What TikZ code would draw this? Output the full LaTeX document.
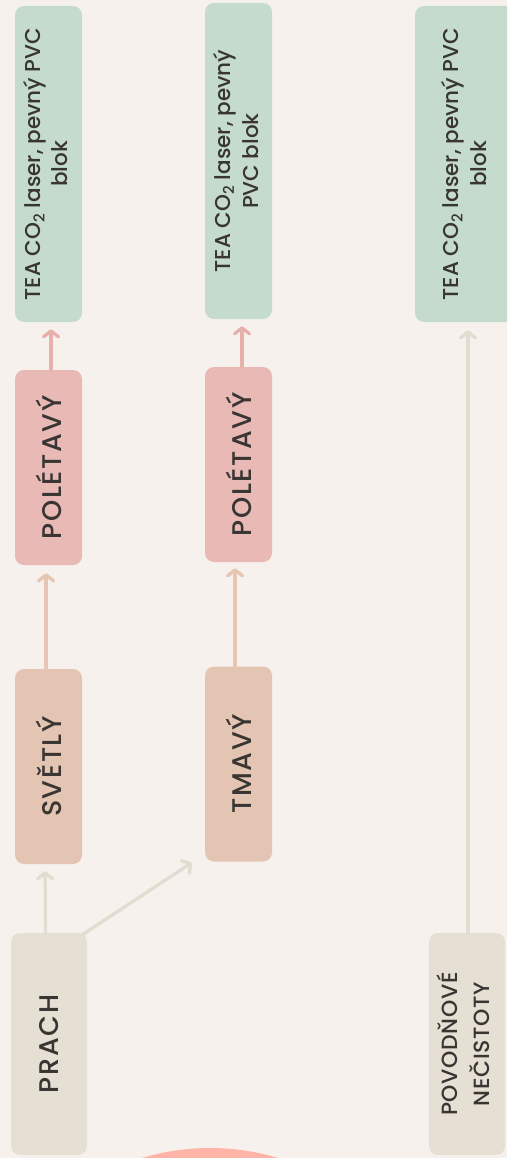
\documentclass[tikz,border=0pt]{standalone}
\usepackage{fontspec}
\setmainfont{Poppins Medium}
\newfontfamily\capsfont{Poppins Medium}[LetterSpace=6]
\newfontfamily\tightcaps{Poppins Medium}[LetterSpace=3]
\usepackage{graphicx}
\usetikzlibrary{arrows.meta,calc}

\definecolor{paper}{HTML}{F6F1ED}
\definecolor{ink}{HTML}{383533}
\definecolor{mint}{HTML}{C4DBCE}
\definecolor{rose}{HTML}{E8B9B5}
\definecolor{peach}{HTML}{E4C5B4}
\definecolor{sand}{HTML}{E5DFD4}
\definecolor{roseline}{HTML}{E8B0AB}
\definecolor{peachline}{HTML}{E6C6B3}
\definecolor{sandline}{HTML}{E2DDD0}
\definecolor{salmon}{HTML}{FFB4A7}

% rotated box text: one label, read from bottom to top
\newcommand\uplabel[2]{\rotatebox{90}{\capsfont\fontsize{#1}{#1}\selectfont #2}}
% rotated two-line text
\newcommand\upblock[3]{\rotatebox{90}{\fontsize{#1}{#2}\selectfont
  \begin{tabular}{@{}c@{}}#3\end{tabular}}}

\tikzset{
  box/.style={rounded corners=9pt, inner sep=0pt, align=center, text=ink},
  laserbox/.style={box, fill=mint, minimum width=67pt, minimum height=316pt},
  flybox/.style={box, fill=rose, minimum width=67pt, minimum height=195pt},
  shadebox/.style={box, fill=peach, minimum width=67pt, minimum height=195pt},
  sourcebox/.style={box, fill=sand, minimum width=76pt, minimum height=222pt},
  link/.style={line width=3.3pt, line cap=round,
    -{Straight Barb[length=6pt,width=15pt,round]}},
}

\begin{document}
\begin{tikzpicture}[x=1pt,y=-1pt]
  \useasboundingbox (0,0) rectangle (507,1158);
  \clip (0,0) rectangle (507,1158);
  \fill[paper] (0,0) rectangle (507,1158);

  % decorative disc at the foot of the page
  \fill[salmon] (210,1384) circle (236);

  % boxes
  \node[laserbox] (g1) at (48.5,164)
    {\upblock{21.5}{26.5}{TEA CO\textsubscript{2} laser, pevný PVC\\ blok}};
  \node[laserbox] (g2) at (238.5,161)
    {\upblock{21.5}{28}{TEA CO\textsubscript{2} laser, pevný\\ PVC blok}};
  \node[laserbox, minimum width=104pt] (g3) at (467,164)
    {\upblock{21.5}{28}{TEA CO\textsubscript{2} laser, pevný PVC\\ blok}};

  \node[flybox] (p1) at (48.5,467.5) {\uplabel{27}{POLÉTAVÝ}};
  \node[flybox] (p2) at (238.5,464.5) {\uplabel{27}{POLÉTAVÝ}};

  \node[shadebox] (s1) at (48.5,766.5) {\uplabel{27}{SVĚTLÝ}};
  \node[shadebox] (t2) at (238.5,764) {\uplabel{27}{TMAVÝ}};

  \node[sourcebox] (prach) at (49,1044) {\uplabel{27}{PRACH}};
  \node[sourcebox] (povod) at (467,1044)
    {\rotatebox{90}{\tightcaps\fontsize{22}{32}\selectfont
      \begin{tabular}{@{}c@{}}POVODŇOVÉ\\ NEČISTOTY\end{tabular}}};

  % connectors
  \draw[link, roseline, shorten >=7pt]
    ([xshift=2.5pt]p1.north) -- ([xshift=2.5pt]g1.south);
  \draw[link, roseline, shorten >=7pt]
    ([xshift=3.5pt]p2.north) -- ([xshift=3.5pt]g2.south);
  \draw[link, peachline, shorten >=8pt]
    ([xshift=-2.5pt]s1.north) -- ([xshift=-2.5pt]p1.south);
  \draw[link, peachline, shorten >=6pt]
    ([xshift=-3.5pt]t2.north) -- ([xshift=-3.5pt]p2.south);
  \draw[link, sandline, shorten >=7pt]
    ([xshift=-3.5pt]prach.north) -- ([xshift=-3.5pt]s1.south);
  \draw[link, sandline]
    ($(prach.north east)+(-5,2)$) -- ($(t2.south west)+(-13,1)$);
  \draw[link, sandline, shorten >=8pt]
    ([xshift=1pt]povod.north) -- ([xshift=1pt]g3.south);
\end{tikzpicture}
\end{document}
